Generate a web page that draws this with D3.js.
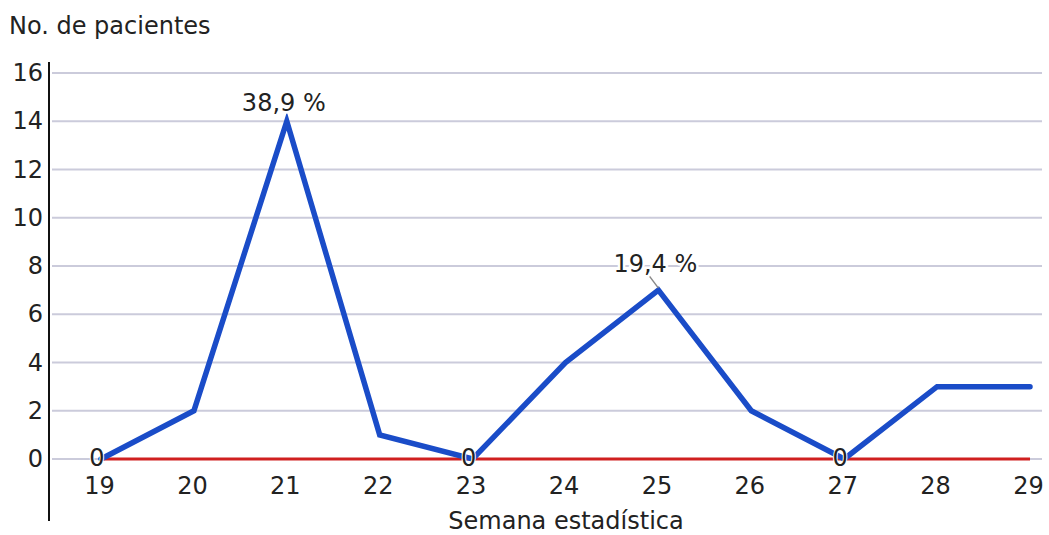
<!DOCTYPE html>
<html>
<head>
<meta charset="utf-8">
<script src="https://cdn.jsdelivr.net/npm/d3@7"></script>
<style>
  body { margin: 0; background: #fff; }
  text { font-family: "DejaVu Sans", Verdana, sans-serif; fill: #222; }
</style>
</head>
<body>
<div id="chart"></div>
<script>
// data
const weeks = [19, 20, 21, 22, 23, 24, 25, 26, 27, 28, 29];
const pacientes = [0, 2, 14, 1, 0, 4, 7, 2, 0, 3, 3];
const referencia = [0, 0, 0, 0, 0, 0, 0, 0, 0, 0, 0];
const yTicks = [0, 2, 4, 6, 8, 10, 12, 14, 16];
// point labels: week -> text
const pctLabels = [{week: 21, text: "38,9 %"}, {week: 25, text: "19,4 %"}];
const zeroLabels = [19, 23, 27];

const W = 1049, H = 535;
const FS = "24px";
const svg = d3.select("#chart").append("svg")
    .attr("width", W).attr("height", H);

const x = d3.scaleLinear().domain([19, 29]).range([101, 1030]);
const y = d3.scaleLinear().domain([0, 16]).range([459, 73]);

// gridlines
svg.append("g").selectAll("line")
  .data(yTicks).enter().append("line")
    .attr("x1", 52).attr("x2", 1042)
    .attr("y1", d => y(d)).attr("y2", d => y(d))
    .attr("stroke", "#cbcbdb").attr("stroke-width", 2);

// y axis
const yAxis = svg.append("g")
    .attr("transform", "translate(49,0)")
    .call(d3.axisLeft(y).tickValues(yTicks).tickSize(0).tickPadding(6));
yAxis.select(".domain").remove();
yAxis.selectAll("text").style("font-size", FS).attr("fill", "#222")
    .attr("font-family", '"DejaVu Sans", Verdana, sans-serif');
svg.append("line")
    .attr("x1", 49).attr("x2", 49).attr("y1", 62).attr("y2", 521)
    .attr("stroke", "#111").attr("stroke-width", 2);

// x axis
const xAxis = svg.append("g")
    .attr("transform", "translate(-2,477)")
    .call(d3.axisBottom(x).tickValues(weeks).tickSize(0).tickPadding(0));
xAxis.select(".domain").remove();
xAxis.selectAll("text").style("font-size", FS).attr("fill", "#222")
    .attr("font-family", '"DejaVu Sans", Verdana, sans-serif');

const line = d3.line().x((d, i) => x(weeks[i])).y(d => y(d));

svg.append("path").datum(referencia)
    .attr("d", line).attr("fill", "none")
    .attr("stroke", "#d02020").attr("stroke-width", 3);

svg.append("path").datum(pacientes)
    .attr("d", line).attr("fill", "none")
    .attr("stroke", "#1a4cc8").attr("stroke-width", 5.5)
    .attr("stroke-linejoin", "miter").attr("stroke-linecap", "round");

// zero labels
svg.selectAll(".zero").data(zeroLabels).enter().append("text")
    .attr("class", "zero")
    .attr("x", d => x(d) - 4).attr("y", y(0) + 7)
    .attr("text-anchor", "middle")
    .style("font-size", FS)
    .style("paint-order", "stroke")
    .attr("stroke", "#fff").attr("stroke-width", 2)
    .text("0");

// percent labels
const valueAt = w => pacientes[weeks.indexOf(w)];
svg.selectAll(".leader").data(pctLabels.filter(d => d.week === 25)).enter().append("line")
    .attr("x1", d => x(d.week) - 9).attr("y1", d => y(valueAt(d.week)) - 14)
    .attr("x2", d => x(d.week)).attr("y2", d => y(valueAt(d.week)) - 2)
    .attr("stroke", "#888").attr("stroke-width", 1.5);
svg.selectAll(".pct").data(pctLabels).enter().append("text")
    .attr("class", "pct")
    .attr("x", d => x(d.week) - 3)
    .attr("y", d => y(valueAt(d.week)) - (d.week === 25 ? 18 : 10))
    .attr("text-anchor", "middle")
    .style("font-size", FS)
    .style("paint-order", "stroke")
    .attr("stroke", "#fff").attr("stroke-width", 5)
    .text(d => d.text);

// titles
svg.append("text").attr("x", 9).attr("y", 34)
    .style("font-size", FS).text("No. de pacientes");
svg.append("text").attr("x", 566).attr("y", 529)
    .attr("text-anchor", "middle")
    .style("font-size", FS).text("Semana estadística");
</script>
</body>
</html>
